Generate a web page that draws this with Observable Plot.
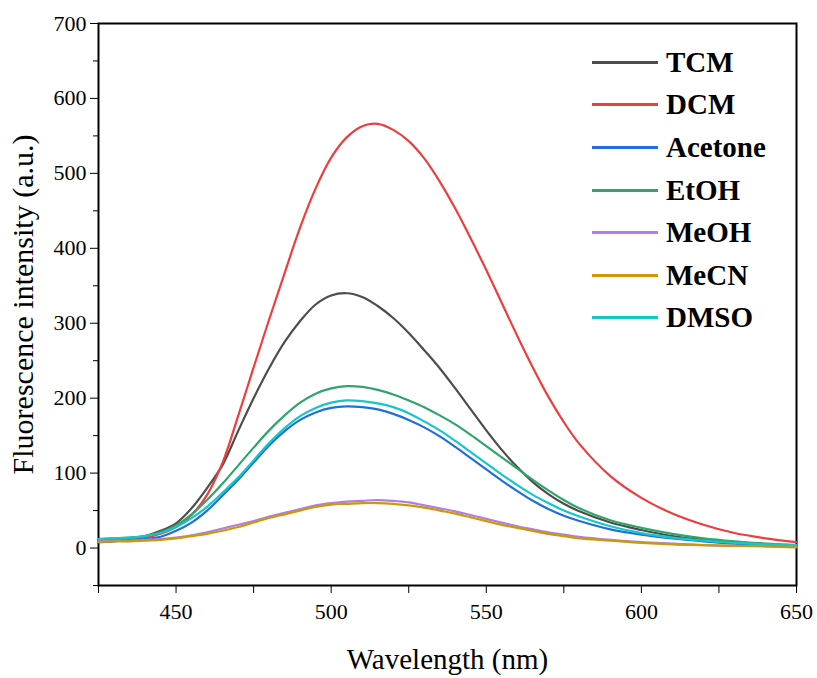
<!DOCTYPE html>
<html>
<head>
<meta charset="utf-8">
<script src="https://cdn.jsdelivr.net/npm/d3@7"></script>
<script src="https://cdn.jsdelivr.net/npm/@observablehq/plot@0.6"></script>
<style>
  html, body { margin: 0; padding: 0; background: #fff; }
  #wrap { position: relative; width: 817px; height: 678px; }
  #legend { position: absolute; left: 592px; top: 41px; font-family: "Liberation Serif", "Times New Roman", serif; font-weight: bold; font-size: 29px; color: #000; }
  .row { display: flex; align-items: center; height: 42.6px; }
  .sw { width: 66px; height: 3px; margin-right: 8px; }
</style>
</head>
<body>
<div id="wrap"></div>
<script>
const wavelengths = [425, 430, 435, 440, 445, 450, 455, 460, 465, 470, 475, 480, 485, 490, 495, 500, 505, 510, 515, 520, 525, 530, 535, 540, 545, 550, 555, 560, 565, 570, 575, 580, 590, 600, 610, 620, 630, 640, 650];

const seriesNames = ["TCM", "DCM", "Acetone", "EtOH", "MeOH", "MeCN", "DMSO"];
const seriesColors = ["#4d4d4d", "#ef3d3d", "#1f6fdc", "#30a56a", "#b07ee4", "#cc9a06", "#16c6c9"];

const TCM     = [10, 11, 13, 16, 23, 33, 53, 80, 111, 156, 200, 240, 275, 303, 325, 337, 340, 335, 323, 307, 287, 264, 240, 213, 185, 157, 131, 108, 88, 72, 59, 49, 34, 24, 16, 11, 8, 5, 3];
const DCM     = [9, 10, 12, 14, 19, 28, 44, 71, 114, 176, 241, 305, 367, 428, 480, 521, 548, 563, 566, 558, 543, 520, 489, 453, 413, 371, 327, 283, 241, 202, 168, 139, 96, 67, 46, 31, 20, 13, 8];
const Acetone = [8, 9, 11, 12, 15, 23, 34, 50, 70, 91, 114, 137, 156, 171, 181, 187, 189, 188, 185, 179, 171, 161, 149, 135, 120, 105, 90, 76, 63, 52, 43, 36, 25, 18, 13, 9, 6, 5, 3];
const EtOH    = [12, 13, 14, 16, 21, 30, 45, 64, 86, 110, 134, 157, 177, 194, 206, 213, 216, 215, 211, 205, 197, 188, 177, 165, 151, 136, 121, 106, 91, 77, 64, 53, 37, 27, 19, 13, 9, 6, 4];
const MeOH    = [9, 10, 10, 11, 12, 14, 17, 21, 26, 31, 36, 42, 47, 52, 57, 60, 62, 63, 64, 63, 61, 57, 53, 49, 44, 39, 34, 29, 25, 21, 18, 15, 11, 8, 6, 4, 3, 3, 2];
const MeCN    = [8, 9, 9, 10, 11, 13, 16, 19, 23, 28, 34, 40, 45, 50, 55, 58, 59, 60, 60, 59, 57, 54, 50, 46, 41, 36, 31, 27, 23, 19, 16, 13, 10, 7, 5, 4, 3, 2, 1];
const DMSO    = [12, 13, 14, 16, 20, 28, 40, 55, 74, 94, 117, 140, 160, 176, 187, 194, 197, 196, 193, 188, 180, 169, 157, 143, 128, 113, 98, 84, 71, 60, 50, 42, 29, 20, 14, 10, 7, 5, 4];

const seriesValues = [TCM, DCM, Acetone, EtOH, MeOH, MeCN, DMSO];

const yMajorTicks = [0, 100, 200, 300, 400, 500, 600, 700];
const yMinorTicks = [-50, 50, 150, 250, 350, 450, 550, 650];
const xMajorTicks = [450, 500, 550, 600, 650];
const xMinorTicks = [425, 475, 525, 575, 625];

const rows = [];
seriesNames.forEach((name, s) => {
  wavelengths.forEach((w, i) => rows.push({series: name, wavelength: w, value: seriesValues[s][i]}));
});

const font = "Liberation Serif, Times New Roman, serif";

const chart = Plot.plot({
  width: 817,
  height: 678,
  marginLeft: 98,
  marginRight: 21,
  marginTop: 23,
  marginBottom: 93,
  style: {fontFamily: font, color: "#000", background: "#fff"},
  x: {domain: [425, 650]},
  y: {domain: [-50, 700]},
  color: {domain: seriesNames, range: seriesColors},
  marks: [
    Plot.frame({stroke: "#000", strokeWidth: 2}),
    Plot.axisY(yMajorTicks, {anchor: "left", tickSize: 8, tickPadding: 4, tickWidth: 2, fontSize: 22, label: null}),
    Plot.axisY(yMinorTicks, {anchor: "left", tickSize: 5, tickWidth: 2, tickFormat: () => "", label: null}),
    Plot.axisY([], {anchor: "left", label: "Fluorescence intensity (a.u.)", labelAnchor: "center", labelArrow: "none", labelOffset: 87, fontSize: 30}),
    Plot.axisX(xMajorTicks, {anchor: "bottom", tickSize: 8, tickPadding: 10, tickWidth: 2, fontSize: 22, label: null}),
    Plot.axisX(xMinorTicks, {anchor: "bottom", tickSize: 8, tickWidth: 2, tickFormat: () => "", label: null}),
    Plot.axisX([], {anchor: "bottom", label: "Wavelength (nm)", labelAnchor: "center", labelArrow: "none", labelOffset: 83, fontSize: 29}),
    Plot.line(rows, {x: "wavelength", y: "value", z: "series", stroke: "series", strokeWidth: 2.2, curve: "catmull-rom"})
  ]
});

const wrap = document.getElementById("wrap");
wrap.appendChild(chart);

const legend = document.createElement("div");
legend.id = "legend";
seriesNames.forEach((name, i) => {
  const row = document.createElement("div");
  row.className = "row";
  const sw = document.createElement("div");
  sw.className = "sw";
  sw.style.background = seriesColors[i];
  const t = document.createElement("span");
  t.textContent = name;
  row.appendChild(sw);
  row.appendChild(t);
  legend.appendChild(row);
});
wrap.appendChild(legend);
</script>
</body>
</html>
